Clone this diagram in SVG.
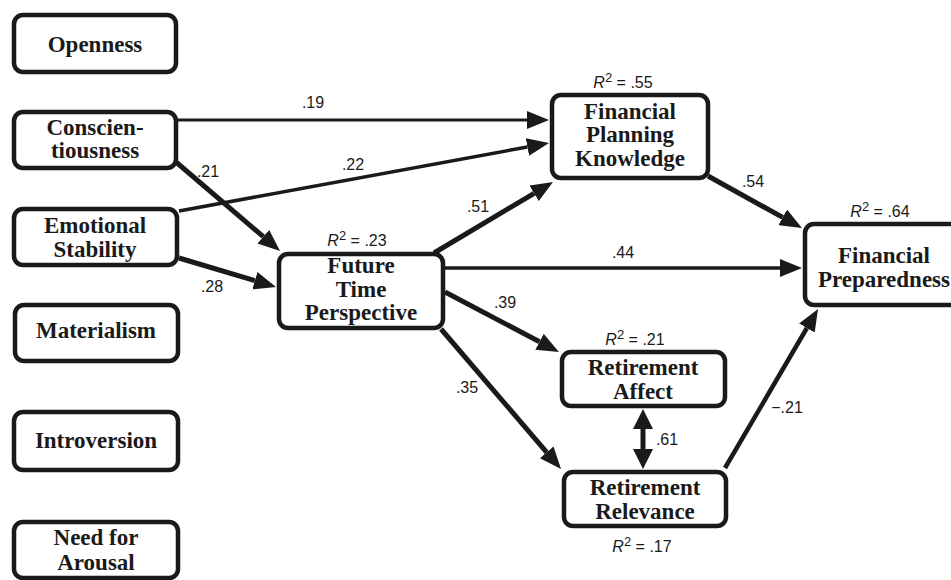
<svg xmlns="http://www.w3.org/2000/svg" width="951" height="580" viewBox="0 0 951 580">
<style>
.box{fill:#fff;stroke:#1a1a1a;stroke-width:4.5}
.lbl{font-family:"Liberation Serif","Times New Roman",serif;font-weight:bold;font-size:23px;fill:#1a1a1a;text-anchor:middle}
.coef{font-family:"Liberation Sans",Arial,sans-serif;font-size:16px;fill:#1a1a1a;text-anchor:middle}
.r2{font-family:"Liberation Sans",Arial,sans-serif;font-size:16px;fill:#1a1a1a;text-anchor:middle}
.c{fill:none;stroke:#1a1a1a}
</style>
<defs>
<marker id="ah" markerUnits="userSpaceOnUse" markerWidth="22" markerHeight="18" viewBox="0 0 22 18" refX="0" refY="9" orient="auto"><path d="M0,0 L22,9 L0,18 z" fill="#1a1a1a"/></marker>
<marker id="ah2" markerUnits="userSpaceOnUse" markerWidth="20" markerHeight="20" viewBox="0 0 20 20" refX="0" refY="10" orient="auto-start-reverse"><path d="M0,0 L20,10 L0,20 z" fill="#1a1a1a"/></marker>
</defs>
<rect width="951" height="580" fill="#fff"/>
<g id="connectors">
<line class="c" x1="178" y1="120" x2="527" y2="120" stroke-width="3" marker-end="url(#ah)"/>
<line class="c" x1="179" y1="211" x2="527.4" y2="147" stroke-width="3.5" marker-end="url(#ah)"/>
<line class="c" x1="176" y1="162" x2="263.3" y2="236.7" stroke-width="5" marker-end="url(#ah)"/>
<line class="c" x1="179" y1="258" x2="254.9" y2="280.7" stroke-width="5" marker-end="url(#ah)"/>
<line class="c" x1="434" y1="253" x2="534.1" y2="193.3" stroke-width="5" marker-end="url(#ah)"/>
<line class="c" x1="445" y1="268" x2="780" y2="268" stroke-width="3.5" marker-end="url(#ah)"/>
<line class="c" x1="445" y1="292" x2="539.5" y2="341.8" stroke-width="5" marker-end="url(#ah)"/>
<line class="c" x1="441" y1="329" x2="546.7" y2="452.3" stroke-width="5" marker-end="url(#ah)"/>
<line class="c" x1="708" y1="176" x2="782.7" y2="217.4" stroke-width="5" marker-end="url(#ah)"/>
<line class="c" x1="725" y1="468" x2="806.9" y2="328" stroke-width="4.5" marker-end="url(#ah)"/>
<line class="c" x1="643" y1="429" x2="643" y2="449" stroke-width="5" marker-start="url(#ah2)" marker-end="url(#ah2)"/>
<text class="coef" x="313" y="108">.19</text>
<text class="coef" x="353" y="170">.22</text>
<text class="coef" x="208" y="177">.21</text>
<text class="coef" x="212" y="292">.28</text>
<text class="coef" x="478" y="212">.51</text>
<text class="coef" x="623" y="258">.44</text>
<text class="coef" x="505" y="308">.39</text>
<text class="coef" x="467" y="393">.35</text>
<text class="coef" x="667" y="445">.61</text>
<text class="coef" x="753" y="187">.54</text>
<text class="coef" x="787" y="413">−.21</text>
</g>
<g id="openness"><rect class="box" x="14" y="15" width="162" height="57" rx="9"/><text class="lbl" x="95" y="52">Openness</text></g>
<g id="conscientiousness"><rect class="box" x="14" y="112" width="162" height="56" rx="9"/><text class="lbl" x="95" y="135">Conscien-</text><text class="lbl" x="95" y="158">tiousness</text></g>
<g id="emotional-stability"><rect class="box" x="14" y="209" width="163" height="56" rx="9"/><text class="lbl" x="95" y="233">Emotional</text><text class="lbl" x="95" y="257">Stability</text></g>
<g id="materialism"><rect class="box" x="15" y="305" width="163" height="56" rx="9"/><text class="lbl" x="96" y="338">Materialism</text></g>
<g id="introversion"><rect class="box" x="14" y="412" width="164" height="58" rx="9"/><text class="lbl" x="96" y="448">Introversion</text></g>
<g id="need-for-arousal"><rect class="box" x="14" y="522" width="164" height="56" rx="9"/><text class="lbl" x="96" y="545">Need for</text><text class="lbl" x="96" y="570">Arousal</text></g>
<g id="future-time-perspective"><rect class="box" x="279" y="254" width="164" height="74" rx="9"/><text class="lbl" x="361" y="273">Future</text><text class="lbl" x="361" y="297">Time</text><text class="lbl" x="361" y="320">Perspective</text><text class="r2" x="357" y="246"><tspan font-style="italic">R</tspan><tspan font-size="13" dy="-6">2</tspan><tspan dy="6"> = .23</tspan></text></g>
<g id="financial-planning-knowledge"><rect class="box" x="552" y="95" width="156" height="83" rx="9"/><text class="lbl" x="630" y="119">Financial</text><text class="lbl" x="630" y="142">Planning</text><text class="lbl" x="630" y="166">Knowledge</text><text class="r2" x="623" y="88"><tspan font-style="italic">R</tspan><tspan font-size="13" dy="-6">2</tspan><tspan dy="6"> = .55</tspan></text></g>
<g id="retirement-affect"><rect class="box" x="562" y="352" width="163" height="54" rx="9"/><text class="lbl" x="643" y="375">Retirement</text><text class="lbl" x="643" y="399">Affect</text><text class="r2" x="635" y="345"><tspan font-style="italic">R</tspan><tspan font-size="13" dy="-6">2</tspan><tspan dy="6"> = .21</tspan></text></g>
<g id="retirement-relevance"><rect class="box" x="564" y="472" width="162" height="54" rx="9"/><text class="lbl" x="645" y="495">Retirement</text><text class="lbl" x="645" y="519">Relevance</text><text class="r2" x="642" y="552"><tspan font-style="italic">R</tspan><tspan font-size="13" dy="-6">2</tspan><tspan dy="6"> = .17</tspan></text></g>
<g id="financial-preparedness"><rect class="box" x="805" y="224" width="160" height="81" rx="9"/><text class="lbl" x="884" y="263">Financial</text><text class="lbl" x="884" y="287">Preparedness</text><text class="r2" x="880" y="217"><tspan font-style="italic">R</tspan><tspan font-size="13" dy="-6">2</tspan><tspan dy="6"> = .64</tspan></text></g>
</svg>
